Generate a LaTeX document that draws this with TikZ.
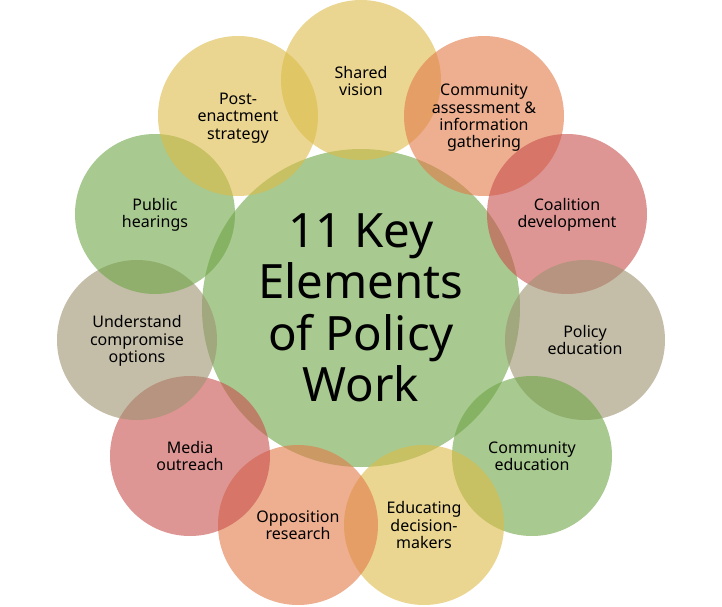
\documentclass[tikz,border=0pt]{standalone}
\usepackage{fontspec}
\setmainfont{Noto Sans}
\usepackage{tikz}
\definecolor{petalyellow}{RGB}{220,188,72}
\definecolor{petalorange}{RGB}{227,122,72}
\definecolor{petalred}{RGB}{200,80,77}
\definecolor{petalgrey}{RGB}{158,147,113}
\definecolor{petalgreen}{RGB}{110,165,70}
\tikzset{
  petal/.style={circle,minimum size=120pt,inner sep=0pt,fill opacity=0.6},
  hub/.style={circle,minimum size=238.5pt,inner sep=0pt,fill=petalgreen,fill opacity=0.6},
  petaltext/.style={align=center,font=\fontsize{12}{13}\selectfont,text=black},
  hubtext/.style={align=center,font=\fontsize{35.5}{38.5}\selectfont,text=black}
}
\begin{document}
\begin{tikzpicture}[x=0.75pt,y=-0.75pt]
   \useasboundingbox (0,0) rectangle (722,607);
   \fill[white] (0,0) rectangle (722,607);
   % circles
   \draw (361,308) node[hub] (hub) {};
   \draw (361,80) node[petal,fill=petalyellow] (shared) {};
   \draw (484,116) node[petal,fill=petalorange] (assess) {};
   \draw (567,214) node[petal,fill=petalred] (coalition) {};
   \draw (585,340) node[petal,fill=petalgrey] (policy) {};
   \draw (532,456) node[petal,fill=petalgreen] (commedu) {};
   \draw (424,525) node[petal,fill=petalyellow] (educating) {};
   \draw (298,525) node[petal,fill=petalorange] (opposition) {};
   \draw (190,456) node[petal,fill=petalred] (media) {};
   \draw (137,340) node[petal,fill=petalgrey] (understand) {};
   \draw (155,214) node[petal,fill=petalgreen] (hearings) {};
   \draw (238,116) node[petal,fill=petalyellow] (post) {};
   % labels
   \draw (361,308) node[hubtext] (hublabel) {11 Key\\Elements\\of Policy\\Work};
   \draw (361,81) node[petaltext] (sharedlabel) {Shared\\vision};
   \draw (484,118) node[petaltext] (assesslabel) {Community\\assessment \&\\information\\gathering};
   \draw (567,215) node[petaltext] (coalitionlabel) {Coalition\\development};
   \draw (585,340) node[petaltext] (policylabel) {Policy\\education};
   \draw (532,456) node[petaltext] (commedulabel) {Community\\education};
   \draw (424,525) node[petaltext] (educatinglabel) {Educating\\decision-\\makers};
   \draw (298,525) node[petaltext] (oppositionlabel) {Opposition\\research};
   \draw (190,456) node[petaltext] (medialabel) {Media\\outreach};
   \draw (137,341) node[petaltext] (understandlabel) {Understand\\compromise\\options};
   \draw (155,215) node[petaltext] (hearingslabel) {Public\\hearings};
   \draw (238,118) node[petaltext] (postlabel) {Post-\\enactment\\strategy};
\end{tikzpicture}
\end{document}
